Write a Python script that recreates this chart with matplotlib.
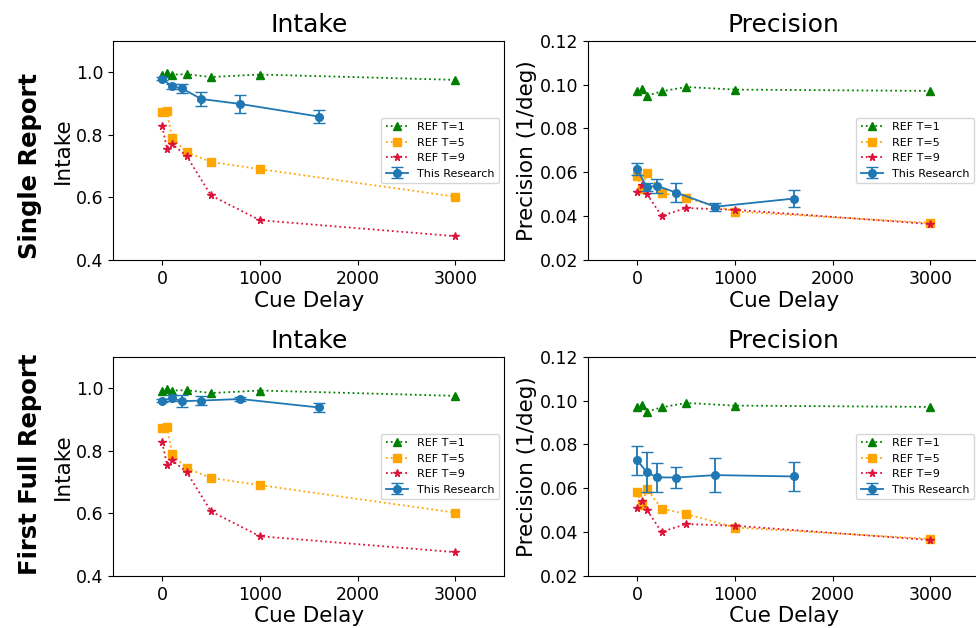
import numpy as np
import matplotlib
matplotlib.use('Agg')
import matplotlib.pyplot as plt

# REF (same in both rows)
ref_delay = [0, 50, 100, 250, 500, 1000, 3000]
ref_intake_t1 = [0.992, 0.998, 0.992, 0.993, 0.984, 0.992, 0.975]
ref_intake_t5 = [0.871, 0.875, 0.790, 0.744, 0.713, 0.690, 0.602]
ref_intake_t9 = [0.827, 0.755, 0.770, 0.732, 0.606, 0.527, 0.476]
ref_prec_t1 = [0.0971, 0.0981, 0.0949, 0.0969, 0.0989, 0.0977, 0.0971]
ref_prec_t5 = [0.0585, 0.0523, 0.0597, 0.0507, 0.0483, 0.0421, 0.0369]
ref_prec_t9 = [0.0509, 0.0542, 0.0501, 0.0401, 0.0437, 0.0429, 0.0364]

# this research
our_delay = [0, 100, 200, 400, 800, 1600]
single_intake = [0.979, 0.954, 0.948, 0.914, 0.898, 0.858]
single_intake_err = [0.005, 0.007, 0.015, 0.023, 0.030, 0.020]
single_prec = [0.0614, 0.0531, 0.0539, 0.0507, 0.0443, 0.0480]
single_prec_err = [0.0027, 0.0018, 0.0032, 0.0043, 0.0019, 0.0040]
full_intake = [0.960, 0.968, 0.958, 0.960, 0.965, 0.938]
full_intake_err = [0.004, 0.010, 0.020, 0.013, 0.005, 0.015]
full_prec = [0.0727, 0.0673, 0.0650, 0.0649, 0.0660, 0.0654]
full_prec_err = [0.0067, 0.0091, 0.0065, 0.0046, 0.0077, 0.0068]

row_names = ['Single Report', 'First Full Report']

fig = plt.figure(figsize=(9.76, 6.28), dpi=100)
W, H = 976, 628

def make_ax(l, t, w=391, h=219.3):
    return fig.add_axes([l / W, (H - t - h) / H, w / W, h / H])

def draw(ax, ref1, ref5, ref9, y, yerr, title, ylabel, ylim, yticks):
    ax.plot(ref_delay, ref1, ':^', color='green', ms=5.5, lw=1.3, label='REF T=1')
    ax.plot(ref_delay, ref5, ':s', color='orange', ms=5.5, lw=1.3, label='REF T=5')
    ax.plot(ref_delay, ref9, ':*', color='crimson', ms=5.5, lw=1.3, label='REF T=9')
    ax.errorbar(our_delay, y, yerr=yerr, fmt='-o', color='tab:blue', ms=5.5, lw=1.3,
                capsize=4, label='This Research')
    ax.set_xlim(-500, 3500)
    ax.set_ylim(*ylim)
    ax.set_yticks(yticks)
    ax.set_xticks([0, 1000, 2000, 3000])
    ax.set_title(title, fontsize=18)
    ax.set_xlabel('Cue Delay', fontsize=15.5, labelpad=2)
    ax.set_ylabel(ylabel, fontsize=15.5, labelpad=2)
    ax.tick_params(labelsize=12.5)
    ax.legend(loc='center right', fontsize=8)

tops = [40.7, 356.7]
intake_data = [(single_intake, single_intake_err), (full_intake, full_intake_err)]
prec_data = [(single_prec, single_prec_err), (full_prec, full_prec_err)]
for r in range(2):
    ax1 = make_ax(113.3, tops[r])
    draw(ax1, ref_intake_t1, ref_intake_t5, ref_intake_t9, *intake_data[r],
         'Intake', 'Intake', (0.4, 1.1), [0.4, 0.6, 0.8, 1.0])
    ax1.yaxis.set_major_formatter(matplotlib.ticker.FormatStrFormatter('%.1f'))
    ax2 = make_ax(588.3, tops[r])
    draw(ax2, ref_prec_t1, ref_prec_t5, ref_prec_t9, *prec_data[r],
         'Precision', 'Precision (1/deg)', (0.02, 0.12), [0.02, 0.04, 0.06, 0.08, 0.10, 0.12])
    ax2.yaxis.set_major_formatter(matplotlib.ticker.FormatStrFormatter('%.2f'))

fig.text(30 / W, (H - 166) / H, row_names[0], rotation=90, ha='center', va='center',
         fontsize=17.5, fontweight='bold')
fig.text(30 / W, (H - 464.7) / H, row_names[1], rotation=90, ha='center', va='center',
         fontsize=17.5, fontweight='bold')

fig.savefig('out.png', dpi=100)
